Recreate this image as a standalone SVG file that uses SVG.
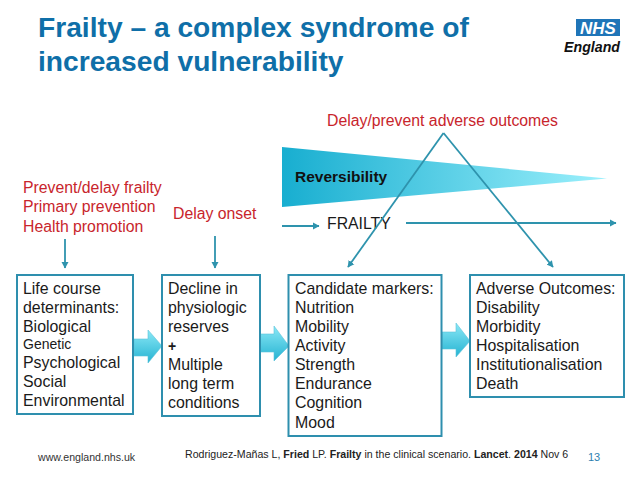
<svg xmlns="http://www.w3.org/2000/svg" width="638" height="479" viewBox="0 0 638 479">
<style>
text{font-family:"Liberation Sans",Arial,sans-serif}
.t{font-size:15.9px;fill:#1a1a1a}
.r{font-size:15.8px;fill:#c8252c}
.h{font-size:28.2px;font-weight:bold;fill:#0f6fa8}
.box{fill:#fff;stroke:#2e8fae;stroke-width:2}
.ln{stroke:#2e93ad;stroke-width:1.8;fill:none}
.ar{fill:url(#ag);stroke:#5cc3da;stroke-width:.6}
.c{font-size:10.6px;fill:#222}
</style>
<defs>
<linearGradient id="wg" x1="0" x2="1" y1="0" y2="0"><stop offset="0" stop-color="#18aed0"/><stop offset="1" stop-color="#9cf0fc"/></linearGradient>
<linearGradient id="ag" x1="0" x2="0" y1="0" y2="1"><stop offset="0" stop-color="#8ae8f6"/><stop offset="1" stop-color="#25b3d2"/></linearGradient>
<marker id="m" markerUnits="userSpaceOnUse" markerWidth="8" markerHeight="8" refX="6" refY="4" orient="auto"><path d="M0 0.5L6.500 4L0 7.500Z" fill="#2e93ad"/></marker>
</defs>
<g id="title"><text class="h" x="38" y="37">Frailty – a complex syndrome of</text><text class="h" x="38" y="71">increased vulnerability</text></g>
<g id="logo"><rect x="576" y="19" width="44" height="17" fill="#1f75b8"/><text x="598" y="34" text-anchor="middle" font-size="17" font-weight="bold" font-style="italic" fill="#fff">NHS</text><text x="620" y="52" text-anchor="end" font-size="14.2" font-weight="bold" font-style="italic" fill="#111">England</text></g>
<g id="wedge"><path d="M282 147L607 178.500L282 207Z" fill="url(#wg)"/><text x="295" y="182" font-size="15.500" font-weight="bold" fill="#111">Reversibility</text></g>
<g id="red-labels">
<text class="r" x="327" y="126">Delay/prevent adverse outcomes</text>
<text class="r" x="23" y="193">Prevent/delay frailty</text><text class="r" x="23" y="212">Primary prevention</text><text class="r" x="23" y="232">Health promotion</text>
<text class="r" x="173" y="219">Delay onset</text>
</g>
<g id="frailty"><text x="327" y="229" font-size="15.800" fill="#1a1a1a">FRAILTY</text></g>
<g id="connectors">
<path class="ln" d="M65 239V268" marker-end="url(#m)"/>
<path class="ln" d="M215 236V268" marker-end="url(#m)"/>
<path class="ln" d="M282 226H319" marker-end="url(#m)"/>
<path class="ln" d="M406 223H616" marker-end="url(#m)"/>
<path class="ln" d="M443.500 133L348 267" marker-end="url(#m)"/>
<path class="ln" d="M443.500 133L553 267" marker-end="url(#m)"/>
</g>
<g id="block-arrows">
<path class="ar" d="M134 339H148V330L162 346L148 363V356H134Z"/>
<path class="ar" d="M260 334H274V326L289 346L274 361V352H260Z"/>
<path class="ar" d="M442 332H456V323L470 341L456 357V349H442Z"/>
</g>
<g id="life"><rect class="box" x="17" y="275" width="116" height="139"/>
<text class="t" x="23" y="294">Life course</text><text class="t" x="23" y="313">determinants:</text><text class="t" x="23" y="332">Biological</text><text x="23" y="349" font-size="14" fill="#1a1a1a">Genetic</text><text class="t" x="23" y="368">Psychological</text><text class="t" x="23" y="387">Social</text><text class="t" x="23" y="406">Environmental</text></g>
<g id="decline"><rect class="box" x="162" y="275" width="98" height="141"/>
<text class="t" x="168" y="294">Decline in</text><text class="t" x="168" y="313">physiologic</text><text class="t" x="168" y="332">reserves</text><text x="168" y="351" font-size="14" font-weight="bold" fill="#1a1a1a">+</text><text class="t" x="168" y="370">Multiple</text><text class="t" x="168" y="389">long term</text><text class="t" x="168" y="408">conditions</text></g>
<g id="markers"><rect class="box" x="288.500" y="275" width="153" height="161"/>
<text class="t" x="295" y="294">Candidate markers:</text><text class="t" x="295" y="313">Nutrition</text><text class="t" x="295" y="332">Mobility</text><text class="t" x="295" y="351">Activity</text><text class="t" x="295" y="370">Strength</text><text class="t" x="295" y="389">Endurance</text><text class="t" x="295" y="408">Cognition</text><text class="t" x="295" y="428">Mood</text></g>
<g id="outcomes"><rect class="box" x="470" y="275" width="154" height="122"/>
<text class="t" x="476" y="294">Adverse Outcomes:</text><text class="t" x="476" y="313">Disability</text><text class="t" x="476" y="332">Morbidity</text><text class="t" x="476" y="351">Hospitalisation</text><text class="t" x="476" y="370">Institutionalisation</text><text class="t" x="476" y="389">Death</text></g>
<g id="footer"><text x="38" y="461" font-size="10.600" fill="#333">www.england.nhs.uk</text>
<text class="c" x="185" y="458">Rodriguez-Mañas L, <tspan font-weight="bold">Fried</tspan> LP. <tspan font-weight="bold">Frailty</tspan> in the clinical scenario. <tspan font-weight="bold">Lancet</tspan>. <tspan font-weight="bold">2014</tspan> Nov 6</text>
<text x="588" y="461" font-size="11" fill="#2e7fb0">13</text></g>
</svg>
